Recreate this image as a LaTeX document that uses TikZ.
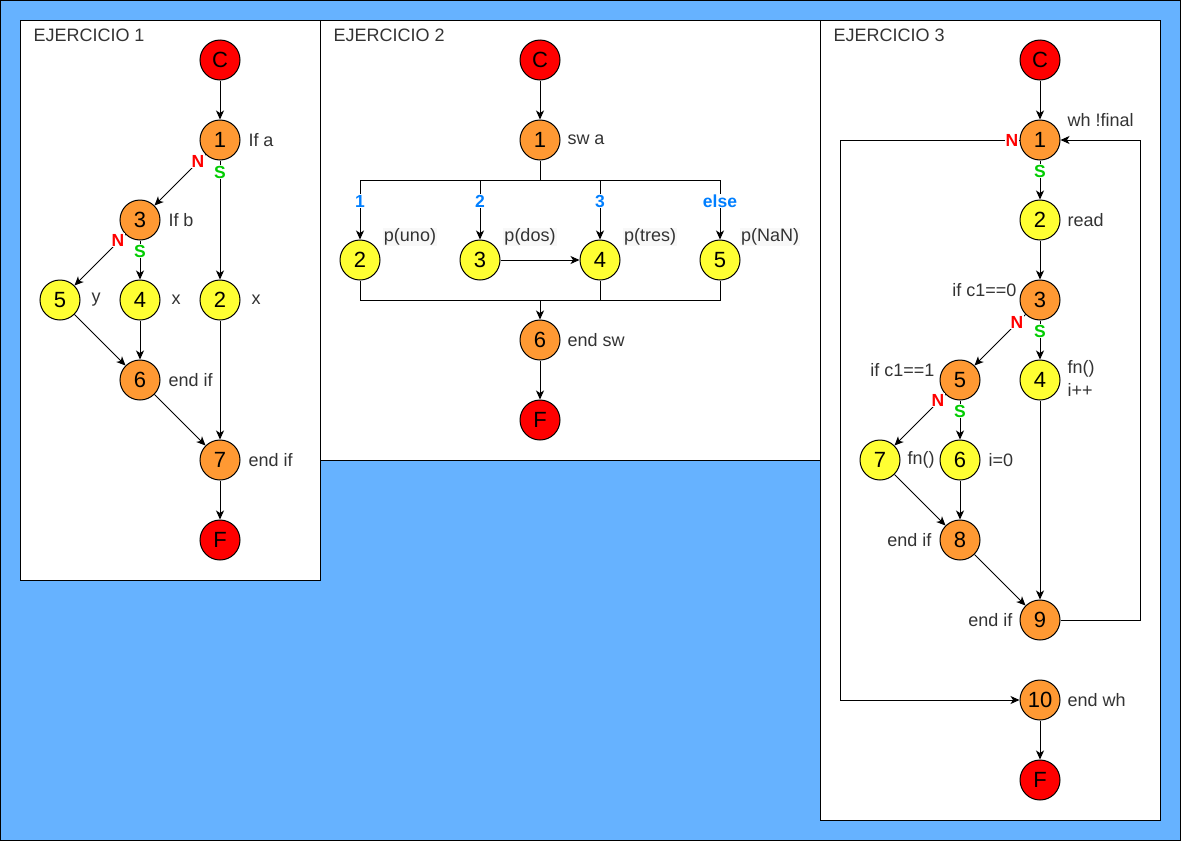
\documentclass[tikz,border=0pt]{standalone}
\usepackage{fontspec}
\setmainfont{Liberation Sans}
\usetikzlibrary{arrows.meta}
\definecolor{bgblue}{HTML}{66B2FF}
\definecolor{cred}{HTML}{FF0000}
\definecolor{corange}{HTML}{FF9933}
\definecolor{cyellow}{HTML}{FFFF33}
\definecolor{txtgray}{HTML}{333333}
\definecolor{lblblue}{HTML}{007FFF}
\definecolor{lblgreen}{HTML}{00CC00}
\definecolor{pbg}{HTML}{F8F8F8}
\tikzset{
  every picture/.style={line width=1pt},
  circ/.style={circle, draw=black, line width=1pt, minimum size=40pt, inner sep=0pt, font=\fontsize{22}{24}\selectfont},
  rednode/.style={circ, fill=cred},
  orgnode/.style={circ, fill=corange},
  ylwnode/.style={circ, fill=cyellow},
  lbl/.style={inner sep=0pt, text=txtgray, font=\fontsize{18}{20}\selectfont},
  lblw/.style={lbl, anchor=west},
  lble/.style={lbl, anchor=east},
  plbl/.style={lbl, fill=pbg, inner sep=1pt},
  ttl/.style={inner sep=0pt, anchor=west, text=txtgray, font=\fontsize{18}{20}\selectfont},
  nlab/.style={fill=white, inner sep=1pt, text=cred, font=\bfseries\fontsize{17.5}{19}\selectfont},
  slab/.style={fill=white, inner sep=1pt, text=lblgreen, font=\bfseries\fontsize{17.5}{19}\selectfont},
  blab/.style={fill=white, inner sep=1pt, text=lblblue, font=\bfseries\fontsize{17.5}{19}\selectfont},
  arr/.style={-{Stealth[length=9pt,width=8pt,inset=2.5pt]}},
  panel/.style={draw=black, fill=white, line width=1pt},
}
\begin{document}
\begin{tikzpicture}[x=1pt, y=-1pt]
\useasboundingbox (0,0) rectangle (1181,841);
\fill[bgblue] (0,0) rectangle (1181,841);
\draw[black] (0.5,0.5) rectangle (1180.5,840.5);
% panels
\draw[panel] (20,20) rectangle (320,580);
\draw[panel] (320,20) rectangle (820,460);
\draw[panel] (820,20) rectangle (1160,820);
\node[ttl] (t1) at (33,35) {EJERCICIO 1};
\node[ttl] (t2) at (333,35) {EJERCICIO 2};
\node[ttl] (t3) at (833,35) {EJERCICIO 3};

% ---------- Panel 1 ----------
\node[rednode] (a0) at (220,60) {C};
\node[orgnode] (a1) at (220,140) {1};
\node[orgnode] (a3) at (140,220) {3};
\node[ylwnode] (a5) at (60,300) {5};
\node[ylwnode] (a4) at (140,300) {4};
\node[ylwnode] (a2) at (220,300) {2};
\node[orgnode] (a6) at (140,380) {6};
\node[orgnode] (a7) at (220,460) {7};
\node[rednode] (aF) at (220,540) {F};
\draw[arr] (a0) -- (a1);
\draw[arr] (a1) -- (a3);
\draw[arr] (a1) -- (a2);
\draw[arr] (a3) -- (a5);
\draw[arr] (a3) -- (a4);
\draw[arr] (a5) -- (a6);
\draw[arr] (a4) -- (a6);
\draw[arr] (a6) -- (a7);
\draw[arr] (a2) -- (a7);
\draw[arr] (a7) -- (aF);
\node[nlab] (an1) at (198,161) {N};
\node[slab] (as1) at (220,172) {S};
\node[nlab] (an3) at (118,240) {N};
\node[slab] (as3) at (140,251) {S};
\node[lblw] (la1) at (248,140) {If a};
\node[lblw] (la3) at (168,220) {If b};
\node[lblw] (la5) at (91,300) {y};
\node[lblw] (la4) at (171,300) {x};
\node[lblw] (la2) at (251,300) {x};
\node[lblw] (la6) at (168,380) {end if};
\node[lblw] (la7) at (248,460) {end if};

% ---------- Panel 2 ----------
\node[rednode] (b0) at (540,60) {C};
\node[orgnode] (b1) at (540,140) {1};
\node[ylwnode] (b2) at (360,260) {2};
\node[ylwnode] (b3) at (480,260) {3};
\node[ylwnode] (b4) at (600,260) {4};
\node[ylwnode] (b5) at (720,260) {5};
\node[orgnode] (b6) at (540,340) {6};
\node[rednode] (bF) at (540,420) {F};
\coordinate (sp) at (540,180);
\coordinate (mg) at (540,300);
\draw[arr] (b0) -- (b1);
\draw (b1) -- (sp);
\draw (b2 |- sp) -- (b5 |- sp);
\draw[arr] (b2 |- sp) -- (b2);
\draw[arr] (b3 |- sp) -- (b3);
\draw[arr] (b4 |- sp) -- (b4);
\draw[arr] (b5 |- sp) -- (b5);
\draw[arr] (b3) -- (b4);
\draw (b2) |- (mg);
\draw (b5) |- (mg);
\draw (b4) -- (b4 |- mg);
\draw[arr] (mg) -- (b6);
\draw[arr] (b6) -- (bF);
\node[blab] (bl1) at (360,201) {1};
\node[blab] (bl2) at (480,201) {2};
\node[blab] (bl3) at (600,201) {3};
\node[blab] (bl4) at (720,201) {else};
\node[lblw] (lb1) at (567,140) {sw a};
\node[plbl] (lb2) at (410,237) {p(uno)};
\node[plbl] (lb3) at (530,237) {p(dos)};
\node[plbl] (lb4) at (650,237) {p(tres)};
\node[plbl] (lb5) at (770,237) {p(NaN)};
\node[lblw] (lb6) at (567,340) {end sw};

% ---------- Panel 3 ----------
\node[rednode] (c0) at (1040,60) {C};
\node[orgnode] (c1) at (1040,140) {1};
\node[ylwnode] (c2) at (1040,220) {2};
\node[orgnode] (c3) at (1040,300) {3};
\node[orgnode] (c5) at (960,380) {5};
\node[ylwnode] (c4) at (1040,380) {4};
\node[ylwnode] (c7) at (880,460) {7};
\node[ylwnode] (c6) at (960,460) {6};
\node[orgnode] (c8) at (960,540) {8};
\node[orgnode] (c9) at (1040,620) {9};
\node[orgnode] (c10) at (1040,700) {10};
\node[rednode] (cF) at (1040,780) {F};
\coordinate (lA) at (840,140);
\coordinate (rA) at (1140,620);
\draw[arr] (c0) -- (c1);
\draw[arr] (c1) -- (c2);
\draw[arr] (c2) -- (c3);
\draw[arr] (c3) -- (c5);
\draw[arr] (c3) -- (c4);
\draw[arr] (c5) -- (c7);
\draw[arr] (c5) -- (c6);
\draw[arr] (c7) -- (c8);
\draw[arr] (c6) -- (c8);
\draw[arr] (c8) -- (c9);
\draw[arr] (c4) -- (c9);
\draw[arr] (c9) -- (rA) |- (c1);
\draw[arr] (c1) -- (lA) |- (c10);
\draw[arr] (c10) -- (cF);
\node[nlab] (cn1) at (1012,140) {N};
\node[slab] (cs1) at (1040,171) {S};
\node[nlab] (cn3) at (1017,322) {N};
\node[slab] (cs3) at (1040,331) {S};
\node[nlab] (cn5) at (938,400) {N};
\node[slab] (cs5) at (960,411) {S};
\node[lblw] (lc1) at (1067,120) {wh !final};
\node[lblw] (lc2) at (1067,220) {read};
\node[lble] (lc3) at (1017,290) {if c1==0};
\node[lblw] (lc4a) at (1067,369) {fn()};
\node[lblw] (lc4b) at (1067,390) {i++};
\node[lble] (lc5) at (935,370) {if c1==1};
\node[lblw] (lc7) at (907,460) {fn()};
\node[lblw] (lc6) at (988,460) {i=0};
\node[lble] (lc8) at (932,540) {end if};
\node[lble] (lc9) at (1013,620) {end if};
\node[lblw] (lc10) at (1067,700) {end wh};
\end{tikzpicture}
\end{document}
